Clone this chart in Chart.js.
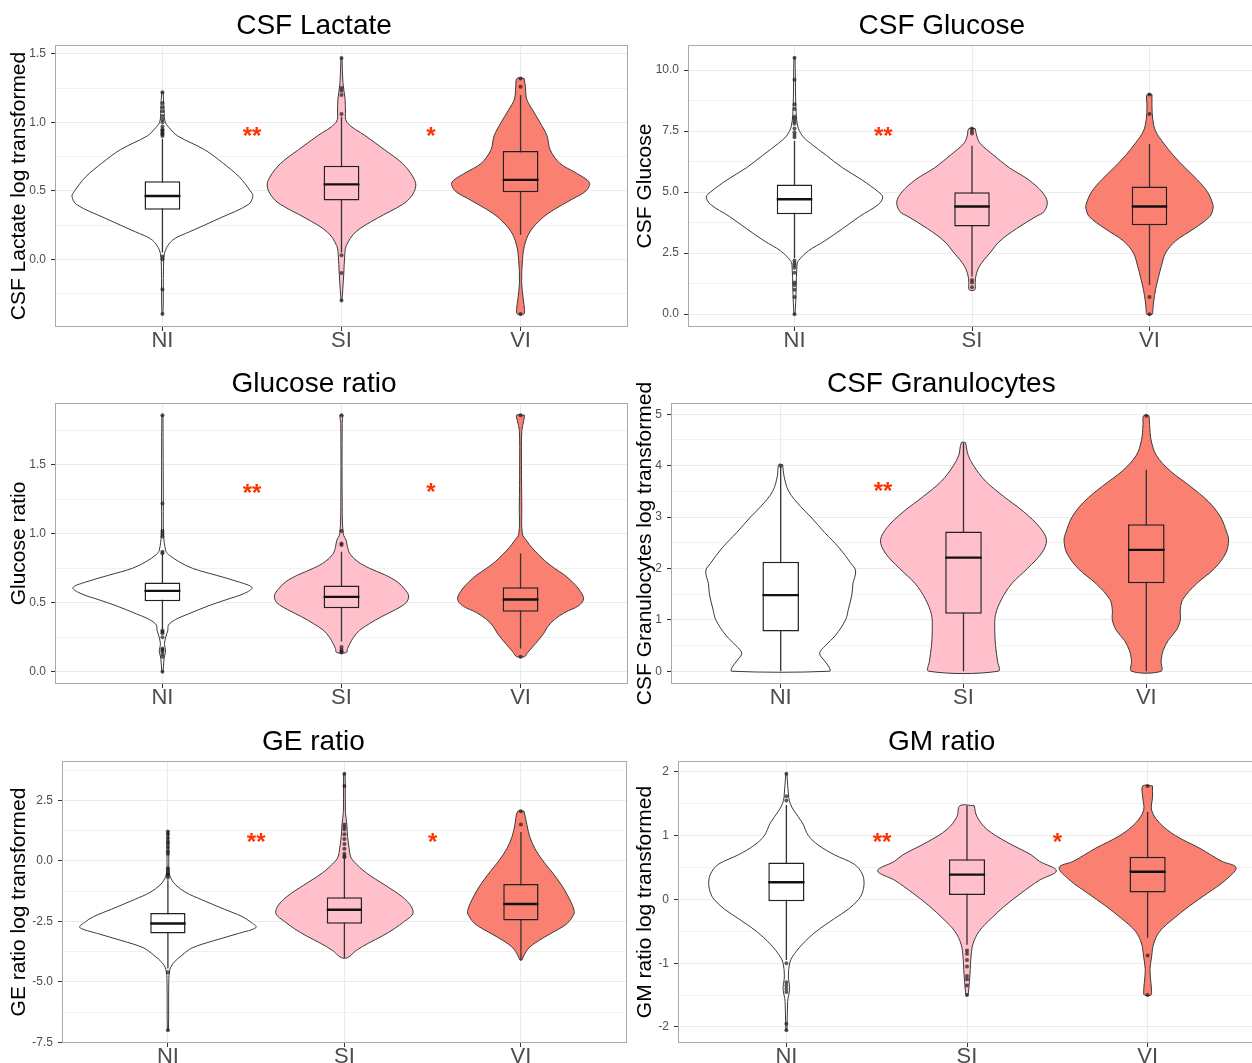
<!DOCTYPE html>
<html>
<head>
<meta charset="utf-8">
<script src="https://cdn.jsdelivr.net/npm/chart.js@4.4.1/dist/chart.umd.min.js"></script>
<style>
  html, body { margin: 0; padding: 0; background: #fff; width: 1252px; height: 1063px; overflow: hidden; }
  .panel { position: absolute; }
</style>
</head>
<body>
<div id="p1" class="panel"><canvas></canvas></div>
<div id="p2" class="panel"><canvas></canvas></div>
<div id="p3" class="panel"><canvas></canvas></div>
<div id="p4" class="panel"><canvas></canvas></div>
<div id="p5" class="panel"><canvas></canvas></div>
<div id="p6" class="panel"><canvas></canvas></div>
<script>
/* ---------- data ---------- */
const groups = ["NI", "SI", "VI"];
const groupFill = ["#ffffff", "#ffc0cb", "#fa8072"];

// violin outlines: [y, half width in category units], top to bottom
// box rows: [lower whisker, q1, median, q3, upper whisker]

// CSF Lactate
const lactateNI = [[1.22,0.004],[1.09,0.009],[1.0,0.016],[0.95,0.045],[0.9,0.085],[0.8,0.235],[0.7,0.34],[0.6,0.43],[0.5,0.49],[0.46,0.505],[0.4,0.48],[0.3,0.32],[0.2,0.15],[0.15,0.067],[0.1,0.03],[0.04,0.011],[-0.05,0.006],[-0.4,0.003]];
const lactateSI = [[1.47,0.003],[1.29,0.008],[1.17,0.02],[1.09,0.022],[1.0,0.03],[0.9,0.135],[0.8,0.24],[0.7,0.34],[0.6,0.40],[0.535,0.415],[0.46,0.39],[0.4,0.34],[0.3,0.2],[0.2,0.08],[0.1,0.027],[0.025,0.018],[-0.1,0.013],[-0.22,0.007],[-0.3,0.002]];
const lactateVI = [[1.32,0.02],[1.26,0.027],[1.17,0.034],[1.09,0.067],[1.0,0.108],[0.9,0.148],[0.8,0.165],[0.7,0.22],[0.63,0.31],[0.56,0.384],[0.5,0.366],[0.44,0.29],[0.365,0.19],[0.3,0.12],[0.2,0.052],[0.1,0.022],[0.0,0.011],[-0.17,0.006],[-0.29,0.015],[-0.365,0.022],[-0.4,0.018]];
const lactateBox = [[0.05,0.362,0.462,0.569,0.88],[0.05,0.43,0.547,0.683,1.04],[0.18,0.49,0.58,0.79,1.2]];
const lactateOut = [
  [1.22,1.14,1.11,1.08,1.045,1.02,1.0,0.97,0.95,0.94,0.93,0.92,0.91,0.9,0.02,0.0,-0.22,-0.4],
  [1.47,1.25,1.23,1.2,1.06,0.03,-0.1,-0.3],
  [1.32,1.26,-0.4]
];
const lactateStars = [["**",1.5,0.94],["*",2.5,0.94]];

// CSF Glucose
const glucoseNI = [[10.5,0.003],[9.6,0.005],[8.6,0.007],[7.7,0.018],[7.3,0.045],[7.0,0.09],[6.5,0.18],[6.0,0.27],[5.5,0.38],[5.0,0.474],[4.8,0.497],[4.5,0.474],[4.0,0.366],[3.5,0.27],[3.0,0.17],[2.6,0.08],[2.2,0.023],[2.0,0.014],[1.0,0.009],[0.0,0.003]];
const glucoseSI = [[7.6,0.018],[7.3,0.027],[7.0,0.045],[6.5,0.124],[6.0,0.21],[5.5,0.32],[5.0,0.395],[4.6,0.424],[4.2,0.406],[4.0,0.36],[3.5,0.25],[3.0,0.158],[2.5,0.1],[2.0,0.045],[1.6,0.023],[1.3,0.018],[1.0,0.016]];
const glucoseVI = [[9.0,0.014],[8.5,0.014],[8.0,0.018],[7.5,0.034],[7.0,0.08],[6.5,0.135],[6.0,0.2],[5.5,0.27],[5.0,0.327],[4.5,0.357],[4.3,0.357],[4.0,0.34],[3.5,0.25],[3.0,0.147],[2.5,0.09],[2.0,0.068],[1.5,0.05],[1.0,0.034],[0.5,0.023],[0.1,0.018],[0.0,0.016]];
const glucoseBox = [[2.3,4.09,4.71,5.31,7.1],[1.54,3.59,4.41,4.99,6.9],[1.2,3.64,4.41,5.23,6.97]];
const glucoseOut = [
  [10.5,9.6,8.6,8.4,8.1,8.0,7.9,7.8,7.6,7.45,7.35,7.25,2.2,2.1,2.0,1.9,1.7,1.3,1.2,1.0,0.7,0.0],
  [7.6,7.5,7.4,1.4,1.3,1.1],
  [9.0,8.2,0.7,0.0]
];
const glucoseStars = [["**",1.5,7.5]];

// Glucose ratio
const ratioNI = [[1.86,0.003],[1.22,0.005],[1.0,0.006],[0.88,0.018],[0.85,0.034],[0.8,0.09],[0.75,0.168],[0.7,0.3],[0.65,0.43],[0.61,0.5],[0.57,0.46],[0.52,0.35],[0.48,0.26],[0.42,0.146],[0.38,0.074],[0.34,0.034],[0.3,0.03],[0.26,0.02],[0.2,0.011],[0.15,0.018],[0.1,0.009],[0.0,0.003]];
const ratioSI = [[1.86,0.008],[1.8,0.004],[1.2,0.004],[1.0,0.01],[0.95,0.027],[0.9,0.034],[0.85,0.05],[0.8,0.09],[0.75,0.157],[0.7,0.247],[0.65,0.314],[0.6,0.352],[0.55,0.375],[0.5,0.36],[0.45,0.3],[0.4,0.224],[0.35,0.157],[0.3,0.1],[0.25,0.067],[0.2,0.045],[0.17,0.034],[0.14,0.027]];
const ratioVI = [[1.86,0.022],[1.82,0.018],[1.75,0.007],[1.5,0.005],[1.2,0.007],[1.0,0.01],[0.95,0.034],[0.9,0.063],[0.85,0.1],[0.8,0.14],[0.75,0.19],[0.7,0.247],[0.65,0.29],[0.6,0.325],[0.53,0.352],[0.48,0.325],[0.43,0.247],[0.38,0.19],[0.33,0.153],[0.28,0.13],[0.23,0.1],[0.18,0.067],[0.14,0.04],[0.11,0.022]];
const ratioBox = [[0.31,0.512,0.587,0.647,0.85],[0.22,0.46,0.543,0.625,0.87],[0.17,0.435,0.524,0.613,0.858]];
const ratioOut = [
  [1.86,1.22,1.02,1.0,0.98,0.87,0.86,0.3,0.29,0.28,0.25,0.17,0.16,0.15,0.13,0.11,0.0],
  [1.86,1.02,0.93,0.92,0.18,0.16,0.15,0.14],
  [1.86,0.11]
];
const ratioStars = [["**",1.5,1.33],["*",2.5,1.34]];

// CSF Granulocytes
const granNI = [[4.02,0.011],[3.8,0.018],[3.5,0.044],[3.2,0.11],[3.0,0.165],[2.7,0.24],[2.4,0.32],[2.1,0.384],[1.95,0.41],[1.7,0.395],[1.5,0.39],[1.2,0.37],[1.0,0.355],[0.7,0.3],[0.5,0.245],[0.35,0.213],[0.2,0.24],[0.08,0.265],[0.0,0.268]];
const granSI = [[4.45,0.011],[4.2,0.026],[4.0,0.055],[3.7,0.12],[3.4,0.22],[3.1,0.33],[2.8,0.417],[2.55,0.454],[2.3,0.428],[2.0,0.35],[1.7,0.263],[1.4,0.208],[1.1,0.175],[0.8,0.171],[0.5,0.175],[0.2,0.186],[0.0,0.19]];
const granVI = [[4.97,0.015],[4.8,0.018],[4.5,0.026],[4.2,0.055],[3.9,0.13],[3.6,0.24],[3.3,0.34],[3.0,0.406],[2.7,0.44],[2.55,0.45],[2.3,0.435],[2.0,0.373],[1.7,0.274],[1.4,0.2],[1.2,0.186],[1.0,0.186],[0.8,0.165],[0.6,0.12],[0.4,0.092],[0.2,0.081],[0.0,0.081]];
const granBox = [[0,0.775,1.48,2.13,4.0],[0,1.12,2.21,2.72,4.45],[0,1.71,2.36,2.86,3.92]];
const granOut = [[4.0],[],[4.97]];
const granStars = [["**",1.56,3.6]];

// GE ratio
const geNI = [[1.22,0.004],[0.0,0.005],[-0.5,0.007],[-0.8,0.023],[-1.0,0.045],[-1.3,0.1],[-1.6,0.19],[-2.0,0.32],[-2.3,0.42],[-2.55,0.473],[-2.75,0.5],[-3.0,0.4],[-3.3,0.26],[-3.6,0.137],[-3.9,0.08],[-4.2,0.034],[-4.5,0.011],[-5.0,0.005],[-7.0,0.003]];
const geSI = [[3.6,0.004],[3.1,0.005],[2.0,0.006],[1.5,0.014],[1.0,0.018],[0.5,0.027],[0.2,0.034],[0.0,0.05],[-0.5,0.125],[-1.0,0.23],[-1.5,0.33],[-1.9,0.38],[-2.2,0.387],[-2.5,0.34],[-2.8,0.284],[-3.1,0.216],[-3.4,0.137],[-3.7,0.068],[-4.0,0.018]];
const geVI = [[2.05,0.018],[1.5,0.034],[1.0,0.05],[0.5,0.08],[0.0,0.125],[-0.5,0.18],[-1.0,0.23],[-1.5,0.27],[-2.0,0.3],[-2.2,0.3],[-2.6,0.26],[-3.0,0.17],[-3.3,0.1],[-3.6,0.045],[-3.9,0.018],[-4.1,0.005]];
const geBox = [[-4.45,-3.0,-2.59,-2.15,-0.8],[-4.0,-2.6,-2.02,-1.5,0.1],[-4.1,-2.47,-1.78,-0.96,1.19]];
const geOut = [
  [1.22,1.1,0.95,0.8,0.7,0.55,0.4,0.3,-0.3,-0.4,-0.5,-0.55,-0.6,-0.7,-4.6,-7.0],
  [3.6,3.1,1.5,1.4,1.3,1.1,0.9,0.7,0.5,0.3,0.2,0.15],
  [2.05,1.5]
];
const geStars = [["**",1.5,1.0],["*",2.5,1.0]];

// GM ratio
const gmNI = [[1.97,0.003],[1.6,0.013],[1.5,0.022],[1.4,0.04],[1.2,0.089],[1.0,0.122],[0.85,0.178],[0.7,0.266],[0.55,0.377],[0.4,0.42],[0.25,0.43],[0.1,0.42],[0.0,0.4],[-0.15,0.344],[-0.3,0.266],[-0.5,0.166],[-0.7,0.089],[-0.9,0.033],[-1.0,0.018],[-1.2,0.011],[-1.4,0.018],[-1.6,0.007],[-2.05,0.003]];
const gmSI = [[1.47,0.04],[1.3,0.055],[1.1,0.11],[0.9,0.22],[0.7,0.355],[0.6,0.4],[0.45,0.495],[0.3,0.4],[0.1,0.3],[-0.1,0.21],[-0.3,0.133],[-0.5,0.067],[-0.7,0.033],[-0.9,0.022],[-1.1,0.018],[-1.3,0.013],[-1.5,0.005]];
const gmVI = [[1.78,0.027],[1.6,0.027],[1.4,0.022],[1.2,0.066],[1.0,0.155],[0.8,0.29],[0.6,0.41],[0.5,0.49],[0.3,0.43],[0.1,0.333],[-0.1,0.233],[-0.3,0.144],[-0.5,0.067],[-0.7,0.033],[-0.9,0.022],[-1.1,0.013],[-1.3,0.018],[-1.45,0.022],[-1.5,0.018]];
const gmBox = [[-0.95,-0.03,0.27,0.58,1.48],[-0.71,0.07,0.39,0.63,1.47],[-0.6,0.11,0.435,0.67,1.37]];
const gmOut = [
  [1.97,1.62,1.55,-1.0,-1.3,-1.35,-1.4,-1.45,-1.95,-2.05],
  [-0.8,-0.85,-0.95,-1.05,-1.2,-1.25,-1.35,-1.5],
  [1.78,-0.88,-1.5]
];
const gmStars = [["**",1.53,0.98],["*",2.5,0.98]];

/* ---------- panels: content + placement ---------- */
const panels = [
  { el: "p1", title: "CSF Lactate", yTitle: "CSF Lactate log transformed",
    violins: [lactateNI, lactateSI, lactateVI], box: lactateBox, out: lactateOut, stars: lactateStars,
    yMin: -0.494, yMax: 1.564, step: 0.5, dec: 1,
    left: 0, top: 0, w: 632, h: 363, axisW: 55, padR: 4 },
  { el: "p2", title: "CSF Glucose", yTitle: "CSF Glucose",
    violins: [glucoseNI, glucoseSI, glucoseVI], box: glucoseBox, out: glucoseOut, stars: glucoseStars,
    yMin: -0.525, yMax: 11.025, step: 2.5, dec: 1,
    left: 626, top: 0, w: 634, h: 363, axisW: 62, padR: 2.4 },
  { el: "p3", title: "Glucose ratio", yTitle: "Glucose ratio",
    violins: [ratioNI, ratioSI, ratioVI], box: ratioBox, out: ratioOut, stars: ratioStars,
    yMin: -0.088, yMax: 1.948, step: 0.5, dec: 1,
    left: 0, top: 358, w: 632, h: 362, axisW: 55, padR: 4 },
  { el: "p4", title: "CSF Granulocytes", yTitle: "CSF Granulocytes log transformed",
    violins: [granNI, granSI, granVI], box: granBox, out: granOut, stars: granStars,
    yMin: -0.2485, yMax: 5.2185, step: 1, dec: 0,
    left: 626, top: 358, w: 634, h: 362, axisW: 45, padR: 3.4 },
  { el: "p5", title: "GE ratio", yTitle: "GE ratio log transformed",
    violins: [geNI, geSI, geVI], box: geBox, out: geOut, stars: geStars,
    yMin: -7.53, yMax: 4.13, step: 2.5, dec: 1,
    left: 0, top: 716, w: 632, h: 363, axisW: 62, padR: 5.2 },
  { el: "p6", title: "GM ratio", yTitle: "GM ratio log transformed",
    violins: [gmNI, gmSI, gmVI], box: gmBox, out: gmOut, stars: gmStars,
    yMin: -2.251, yMax: 2.171, step: 1, dec: 0,
    left: 626, top: 716, w: 634, h: 363, axisW: 52, padR: 2.8 }
];

Chart.defaults.font.family = "'Liberation Sans', Arial, sans-serif";

/* panel border + significance marks */
const panelBorder = {
  id: "panelBorder",
  afterDatasetsDraw(chart) {
    const a = chart.chartArea, ctx = chart.ctx;
    ctx.save();
    ctx.strokeStyle = "#a9a9a9";
    ctx.lineWidth = 1;
    ctx.strokeRect(Math.round(a.left) + 0.5, Math.round(a.top) + 0.5,
      Math.round(a.width) - 1, Math.round(a.height) - 1);
    ctx.restore();
  }
};

const starMarks = {
  id: "starMarks",
  afterDatasetsDraw(chart, args, opts) {
    const ctx = chart.ctx, sx = chart.scales.x, sy = chart.scales.y;
    const size = 24;
    ctx.save();
    ctx.fillStyle = "#ff3300";
    ctx.font = "bold " + size + "px 'Liberation Sans', Arial, sans-serif";
    ctx.textAlign = "center";
    ctx.textBaseline = "alphabetic";
    (opts.marks || []).forEach(([txt, x, y]) => {
      ctx.fillText(txt, sx.getPixelForValue(x), sy.getPixelForValue(y) + size * 0.55);
    });
    ctx.restore();
  }
};

function violinPoints(profile, cx) {
  const right = profile.map(([y, w]) => ({ x: cx + w, y }));
  const left = profile.slice().reverse().map(([y, w]) => ({ x: cx - w, y }));
  return right.concat(left, [right[0]]);
}

function yTicks(p) {
  const out = [];
  const half = p.step / 2;
  let v = Math.ceil(p.yMin / half) * half;
  for (; v <= p.yMax + 1e-9; v += half) {
    const k = Math.round(v / half);
    out.push({ value: +(k * half).toFixed(4), minor: k % 2 !== 0 });
  }
  return out;
}

function makeChart(p) {
  const box = document.getElementById(p.el);
  box.style.left = p.left + "px";
  box.style.top = p.top + "px";
  box.style.width = p.w + "px";
  box.style.height = p.h + "px";

  const datasets = [];
  p.violins.forEach((prof, i) => {
    datasets.push({
      type: "line",
      data: violinPoints(prof, i + 1),
      borderColor: "#3a3a3a",
      borderWidth: 1,
      backgroundColor: groupFill[i],
      fill: "shape",
      tension: 0.35,
      pointRadius: 0,
      order: 5
    });
  });
  datasets.push({
    type: "line",
    data: p.box.flatMap((b, i) => [{ x: i + 1, y: b[0] }, { x: i + 1, y: b[4] }, { x: i + 1.5, y: null }]),
    borderColor: "#333333",
    borderWidth: 1.3,
    pointRadius: 0,
    spanGaps: false,
    fill: false,
    order: 4
  });
  datasets.push({
    type: "bar",
    data: p.box.map((b, i) => ({ x: i + 1, y: [b[1], b[3]] })),
    backgroundColor: groupFill,
    borderColor: "#222222",
    borderWidth: 1.5,
    borderSkipped: false,
    barPercentage: 0.2,
    categoryPercentage: 1,
    order: 3
  });
  datasets.push({
    type: "line",
    data: p.box.flatMap((b, i) => [{ x: i + 0.9, y: b[2] }, { x: i + 1.1, y: b[2] }, { x: i + 1.5, y: null }]),
    borderColor: "#111111",
    borderWidth: 2.4,
    pointRadius: 0,
    spanGaps: false,
    fill: false,
    order: 2
  });
  datasets.push({
    type: "line",
    data: p.out.flatMap((arr, i) => arr.map(v => ({ x: i + 1, y: v }))),
    showLine: false,
    pointRadius: 2,
    pointBorderWidth: 0,
    pointBackgroundColor: "rgba(25,25,25,0.7)",
    order: 1
  });

  const tickList = yTicks(p);

  return new Chart(box.querySelector("canvas"), {
    type: "line",
    data: { datasets },
    options: {
      responsive: true,
      maintainAspectRatio: false,
      animation: false,
      events: [],
      layout: { padding: { left: 0, top: 0, right: p.padR, bottom: 0 } },
      plugins: {
        legend: { display: false },
        tooltip: { enabled: false },
        title: {
          display: true,
          text: p.title,
          color: "#000",
          font: { size: 28, weight: "normal", lineHeight: 1.2 },
          padding: { top: 9, bottom: 2.4 }
        },
        starMarks: { marks: p.stars }
      },
      scales: {
        x: {
          type: "linear",
          min: 0.4,
          max: 3.6,
          offset: false,
          afterBuildTicks: s => { s.ticks = [1, 2, 3].map(v => ({ value: v })); },
          afterFit: s => { s.height = 36; },
          ticks: {
            callback: v => groups[v - 1],
            color: "#4d4d4d",
            font: { size: 22 },
            padding: -3,
            maxRotation: 0,
            autoSkip: false
          },
          grid: { offset: false, color: "#ebebeb", lineWidth: 1, tickColor: "#333", tickLength: 4 },
          border: { display: false }
        },
        y: {
          type: "linear",
          min: p.yMin,
          max: p.yMax,
          afterBuildTicks: s => { s.ticks = tickList.map(t => ({ value: t.value, minor: t.minor })); },
          afterFit: s => { s.width = p.axisW; },
          ticks: {
            callback: (v, i, t) => t[i].minor ? "" : v.toFixed(p.dec),
            color: "#4d4d4d",
            font: { size: 12 },
            padding: 5,
            autoSkip: false
          },
          grid: {
            color: "#ebebeb",
            lineWidth: c => (c.tick && c.tick.minor) ? 0.7 : 1,
            tickColor: c => (c.tick && c.tick.minor) ? "rgba(0,0,0,0)" : "#333",
            tickLength: 4
          },
          border: { display: false },
          title: {
            display: true,
            text: p.yTitle,
            color: "#000",
            font: { size: 21 },
            padding: { top: 7, bottom: 0 }
          }
        }
      }
    },
    plugins: [panelBorder, starMarks]
  });
}

panels.forEach(makeChart);
</script>
</body>
</html>
